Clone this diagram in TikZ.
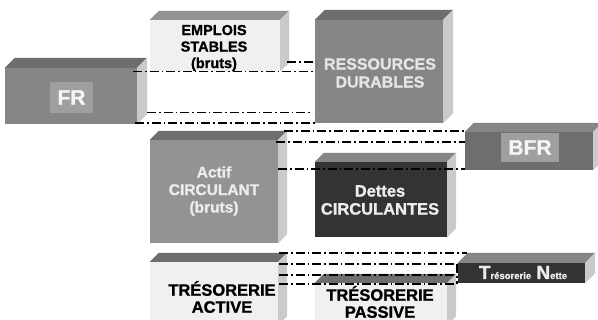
\documentclass[tikz,border=0pt]{standalone}
\usepackage{fontspec}
\setmainfont{Liberation Sans}[BoldFeatures={FakeBold=1.2}]
\usetikzlibrary{fit}
\newcommand\boxthreed[8]{%
  \node[fit={(#2,#3) (#4,#5)}, inner sep=0pt, fill=#6] (#1) {};
  \fill[#7] (#1.north west) -- ([shift={(#8pt,#8pt)}]#1.north west) -- ([shift={(#8pt,#8pt)}]#1.north east) -- (#1.north east) -- cycle;
  \fill[sidegray] (#1.north east) -- ([shift={(#8pt,#8pt)}]#1.north east) -- ([shift={(#8pt,#8pt)}]#1.south east) -- (#1.south east) -- cycle;
}
\begin{document}
\begin{tikzpicture}[x=1pt,y=-1pt,
  ddline/.style={line width=1.3pt, black, dash pattern=on 9pt off 3pt on 1.6pt off 3pt},
  lbl/.style={font=\bfseries, align=center, inner sep=0pt},
  ]
\definecolor{sidegray}{HTML}{CACACA}
\definecolor{topgray}{HTML}{6E6E6E}
\useasboundingbox (0,0) rectangle (598,320);
\fill[white] (0,0) rectangle (598,320);
% boxes
\boxthreed{emp}{150}{20}{280}{71.5}{gray!12}{gray!85}{9}
\boxthreed{fr}{5}{68}{137}{124}{gray!95}{topgray}{10}
\boxthreed{res}{315}{20}{443}{123}{gray!95}{topgray}{10}
\boxthreed{bfr}{465}{132}{593}{170}{topgray}{gray!95}{9}
\boxthreed{act}{150}{140}{278}{243}{gray!85}{topgray}{9}
\boxthreed{det}{315}{162}{447}{237}{black!80}{gray!95}{9}
\boxthreed{tra}{150}{262}{278}{325}{gray!12}{topgray}{9}
\boxthreed{trp}{315}{283}{447}{325}{gray!12}{topgray}{9}
\boxthreed{trn}{458}{263}{585}{283}{black!80}{gray!95}{10}
% inner labels
\node[fill=gray!75, minimum width=43pt, minimum height=31pt, inner sep=0pt, font=\bfseries\fontsize{21pt}{21pt}\selectfont, text=gray!8] (frl) at (71.5,97.5) {FR};
\node[fill=gray!75, minimum width=58pt, minimum height=29pt, inner sep=0pt, font=\bfseries\fontsize{21pt}{21pt}\selectfont, text=gray!8] (bfrl) at (530,147.5) {BFR};
\node[lbl, font=\bfseries\fontsize{14.5pt}{16.5pt}\selectfont] (empl) at (214,48) {EMPLOIS\\STABLES\\(bruts)};
\node[lbl, text=gray!20, font=\bfseries\fontsize{16pt}{18pt}\selectfont] (resl) at (380,73) {RESSOURCES\\DURABLES};
\node[lbl, text=gray!15, font=\bfseries\fontsize{15.5pt}{17.5pt}\selectfont] (actl) at (214,191) {Actif\\CIRCULANT\\(bruts)};
\node[lbl, text=gray!15, font=\bfseries\fontsize{16.5pt}{18pt}\selectfont] (detl) at (380,200) {Dettes\\CIRCULANTES};
\node[lbl, font=\bfseries\fontsize{16.5pt}{17pt}\selectfont] (tral) at (222,297) {TR\'ESORERIE\\ACTIVE};
\node[lbl, font=\bfseries\fontsize{16.5pt}{17pt}\selectfont] (trpl) at (380,302) {TR\'ESORERIE\\PASSIVE};
\node[inner sep=0pt, text=gray!15, anchor=base, font=\bfseries\fontsize{19pt}{19pt}\selectfont] (trnl) at (523,279) {T\fontsize{9.5pt}{10pt}\selectfont r\'esorerie\ \ \fontsize{19pt}{19pt}\selectfont N\fontsize{9.5pt}{10pt}\selectfont ette};
% line ends
\coordinate (a1) at (287,62);   \coordinate (a2) at (315,62);
\coordinate (b1) at (133,71.5); \coordinate (b2) at (315,71.5);
\coordinate (c1) at (147,112.5);\coordinate (c2) at (313,112.5);
\coordinate (d1) at (135,123);  \coordinate (d2) at (315,123);
\coordinate (e1) at (284,131);  \coordinate (e2) at (465,131);
\coordinate (f1) at (276,142);  \coordinate (f2) at (465,142);
\coordinate (g1) at (278,169);  \coordinate (g2) at (465,169);
\coordinate (h1) at (279,253);  \coordinate (h2) at (467,253);
\coordinate (i1) at (279,264);  \coordinate (i2) at (457,264);
\coordinate (j1) at (279,275);  \coordinate (j2) at (457,275);
\coordinate (k1) at (279,284);  \coordinate (k2) at (457,284);
\foreach \p/\q in {a1/a2,b1/b2,c1/c2,d1/d2,e1/e2,f1/f2,g1/g2,h1/h2,i1/i2,j1/j2,k1/k2}
  \draw[ddline] (\p) -- (\q);
\draw[ddline] (i2) -- (k2);
\end{tikzpicture}
\end{document}
